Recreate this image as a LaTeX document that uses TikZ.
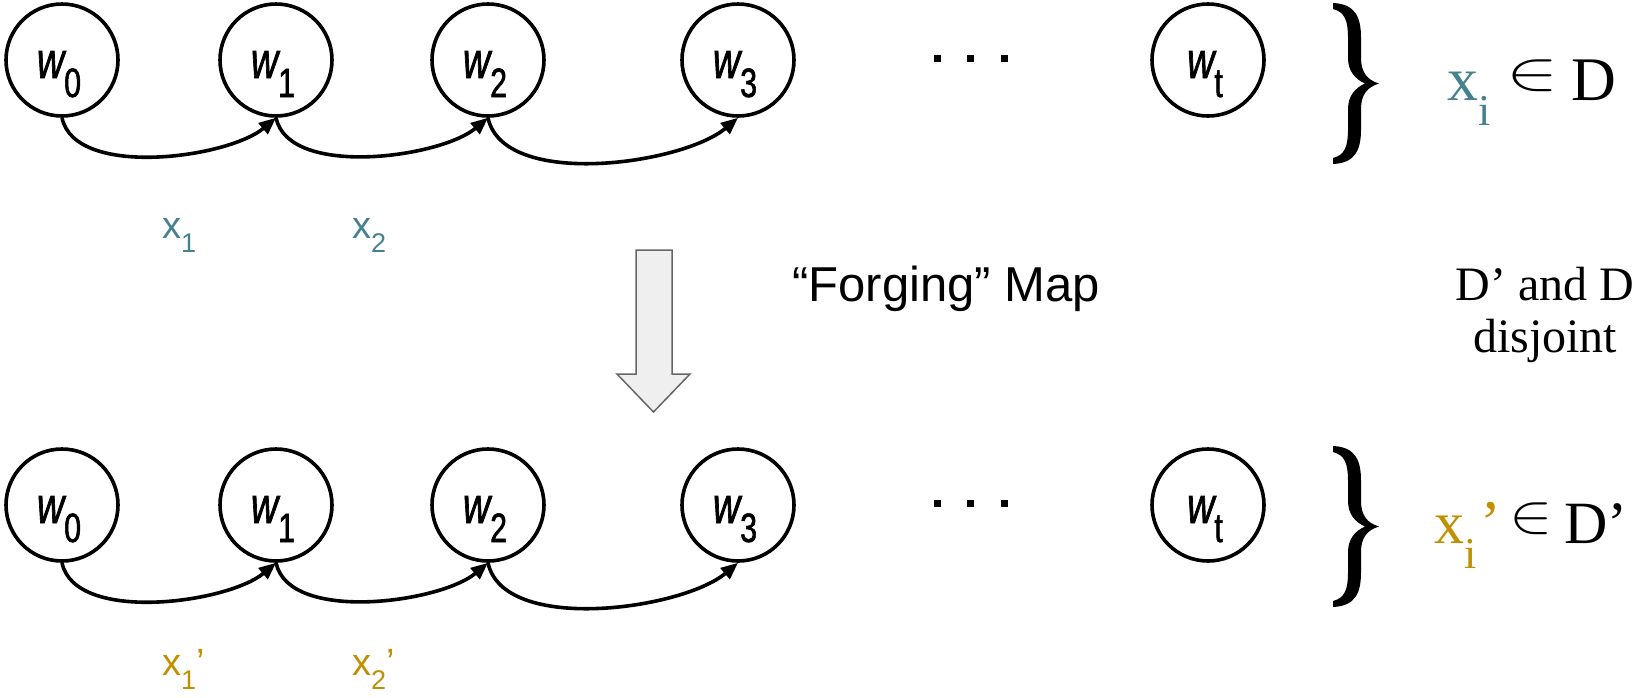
\documentclass[tikz,border=0pt]{standalone}
\usepackage{fontspec}
\usepackage{graphicx}
\usetikzlibrary{arrows.meta}
\newfontfamily\lsans{Liberation Sans}
\newfontfamily\lserif{Liberation Serif}
\newfontfamily\wcond[FakeStretch=0.74,FakeBold=1.3]{Liberation Sans}
\definecolor{tealx}{HTML}{45818E}
\definecolor{goldx}{HTML}{BF9000}
\definecolor{arrowfill}{HTML}{EFEFEF}
\definecolor{arrowline}{HTML}{666666}
\newcommand{\wl}[1]{{\wcond\itshape\fontsize{51}{51}\selectfont w}\raisebox{-19pt}{\wcond\fontsize{41}{41}\selectfont #1}\kern6pt}
\newcommand{\xl}[2]{\lsans\fontsize{38}{38}\selectfont x\raisebox{-14pt}{\fontsize{27}{27}\selectfont #1}#2}
\newcommand{\bracepath}{(1333,-3) .. controls (1356,-4) and (1361,-18) .. (1361,-38) -- (1361,-58) .. controls (1361,-72) and (1367,-80) .. (1379,-83.5) .. controls (1367,-87) and (1361,-95) .. (1361,-109) -- (1361,-129) .. controls (1361,-149) and (1356,-163) .. (1333,-164) -- (1333,-158) .. controls (1345,-155) and (1348,-146) .. (1348,-129) -- (1348,-109) .. controls (1348,-96) and (1355,-88) .. (1365,-83.5) .. controls (1355,-79) and (1348,-71) .. (1348,-58) -- (1348,-38) .. controls (1348,-21) and (1345,-12) .. (1333,-9) -- cycle}
\tikzset{
  wnode/.style={circle, draw, line width=3.6pt, minimum size=112pt, inner sep=0pt, text height=40pt, text depth=4pt},
  link/.style={line width=3.6pt, -{Triangle[length=17pt,width=14pt]}, out=-78, in=-140, looseness=0.75},
  xlab/.style={anchor=base west, inner sep=0pt},
  dotsq/.style={fill=black, minimum size=7pt, inner sep=0pt, rectangle},
}
\begin{document}
\begin{tikzpicture}[x=1pt,y=1pt]
\useasboundingbox (0,0) rectangle (1646,-697);
% top row
\node[wnode] (a0) at (62,-60) {\wl{0}};
\node[wnode] (a1) at (276,-60) {\wl{1}};
\node[wnode] (a2) at (488,-60) {\wl{2}};
\node[wnode] (a3) at (738,-60) {\wl{3}};
\node[wnode] (at) at (1208,-60) {\wl{t}};
\draw[link] (a0.south) to (a1.south);
\draw[link] (a1.south) to (a2.south);
\draw[link] (a2.south) to (a3.south);
\node[dotsq] (ad1) at (937,-58) {};
\node[dotsq] (ad2) at (970,-58) {};
\node[dotsq] (ad3) at (1004,-58) {};
\node[xlab, text=tealx] (ax1) at (162,-238) {\xl{1}{}};
\node[xlab, text=tealx] (ax2) at (352,-238) {\xl{2}{}};
% bottom row
\node[wnode] (b0) at (62,-505) {\wl{0}};
\node[wnode] (b1) at (276,-505) {\wl{1}};
\node[wnode] (b2) at (488,-505) {\wl{2}};
\node[wnode] (b3) at (738,-505) {\wl{3}};
\node[wnode] (bt) at (1208,-505) {\wl{t}};
\draw[link] (b0.south) to (b1.south);
\draw[link] (b1.south) to (b2.south);
\draw[link] (b2.south) to (b3.south);
\node[dotsq] (bd1) at (937,-503) {};
\node[dotsq] (bd2) at (970,-503) {};
\node[dotsq] (bd3) at (1004,-503) {};
\node[xlab, text=goldx] (bx1) at (162,-675) {\xl{1}{’}};
\node[xlab, text=goldx] (bx2) at (352,-675) {\xl{2}{’}};
% forging arrow
\draw[fill=arrowfill, draw=arrowline, line width=1.5pt] (636,-250) -- (672,-250) -- (672,-374) -- (690,-374) -- (653.5,-412) -- (617,-374) -- (636,-374) -- cycle;
\node[xlab] (forge) at (792,-301) {\lsans\fontsize{49}{49}\selectfont “Forging” Map};
% braces
\fill \bracepath;
\begin{scope}[yshift=-443pt]
\fill \bracepath;
\end{scope}
% top right set text
\node[xlab, text=tealx] (xi) at (1447,-100) {\lserif\fontsize{62}{62}\selectfont x\raisebox{-25pt}{\fontsize{44}{44}\selectfont i}};
\node[inner sep=0pt] (in1) at (1532,-76) {\scalebox{7.8}[5.5]{$\in$}};
\node[xlab] (dset) at (1571,-100) {\lserif\fontsize{62}{62}\selectfont D};
% bottom right set text
\node[xlab, text=goldx] (xip) at (1434,-543) {\lserif\fontsize{60}{60}\selectfont x\raisebox{-25pt}{\fontsize{44}{44}\selectfont i}};
\node[xlab, text=goldx] (xipr) at (1480,-543) {\lserif\fontsize{62}{62}\selectfont ’};
\node[inner sep=0pt] (in2) at (1531,-519) {\scalebox{6.5}[5.5]{$\in$}};
\node[xlab] (dpset) at (1564,-543) {\lserif\fontsize{60}{60}\selectfont D’};
% disjoint note
\node[inner sep=0pt, align=center, font=\lserif\fontsize{48}{52}\selectfont] (note) at (1545,-315) {D’ and D\\disjoint};
\end{tikzpicture}
\end{document}
